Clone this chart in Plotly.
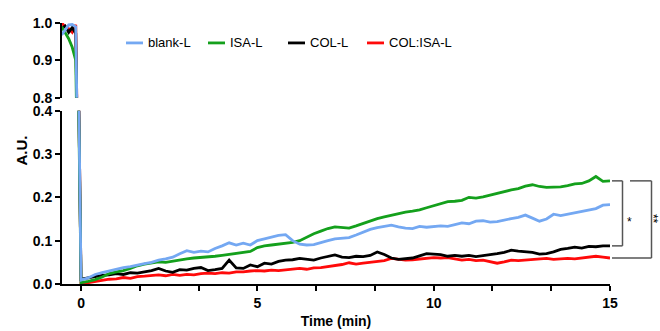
import plotly.graph_objects as go

# ---------------- data ----------------
time_pre = [-0.55, -0.45, -0.35, -0.25, -0.15]
time_main = [round(0.2 * i, 1) for i in range(76)]

blank_pre = [0.968, 0.982, 0.995, 0.996, 0.990]
isa_pre = [0.990, 0.975, 0.958, 0.935, 0.900]
col_pre = [0.985, 0.992, 0.975, 0.988, 0.972]
colisa_pre = [1.000, 0.990, 0.985, 0.975, 0.995]

blank_main = [0.009, 0.014, 0.022, 0.026, 0.030, 0.034, 0.038, 0.040, 0.044, 0.047,
              0.050, 0.055, 0.058, 0.062, 0.070, 0.077, 0.073, 0.076, 0.074, 0.082,
              0.088, 0.095, 0.090, 0.094, 0.090, 0.100, 0.104, 0.108, 0.112, 0.114,
              0.100, 0.092, 0.090, 0.091, 0.096, 0.100, 0.104, 0.106, 0.107, 0.113,
              0.120, 0.126, 0.130, 0.133, 0.136, 0.132, 0.129, 0.128, 0.133, 0.131,
              0.132, 0.134, 0.133, 0.137, 0.141, 0.139, 0.145, 0.146, 0.143, 0.144,
              0.148, 0.151, 0.154, 0.159, 0.152, 0.145, 0.150, 0.161, 0.158, 0.161,
              0.164, 0.168, 0.171, 0.174, 0.182, 0.183]

isa_main = [0.003, 0.006, 0.010, 0.016, 0.024, 0.028, 0.031, 0.036, 0.042, 0.046,
            0.049, 0.051, 0.050, 0.053, 0.055, 0.058, 0.060, 0.061, 0.063, 0.064,
            0.066, 0.068, 0.070, 0.072, 0.075, 0.084, 0.088, 0.090, 0.092, 0.094,
            0.096, 0.100, 0.108, 0.116, 0.122, 0.128, 0.132, 0.130, 0.129, 0.134,
            0.140, 0.146, 0.151, 0.155, 0.159, 0.163, 0.166, 0.168, 0.171, 0.176,
            0.181, 0.186, 0.190, 0.191, 0.193, 0.200, 0.198, 0.201, 0.205, 0.210,
            0.213, 0.217, 0.220, 0.226, 0.229, 0.225, 0.223, 0.224, 0.224, 0.227,
            0.231, 0.232, 0.238, 0.248, 0.237, 0.238]

col_main = [0.011, 0.014, 0.017, 0.020, 0.021, 0.024, 0.022, 0.026, 0.025, 0.028,
            0.031, 0.036, 0.030, 0.027, 0.033, 0.032, 0.036, 0.038, 0.031, 0.033,
            0.036, 0.055, 0.037, 0.036, 0.044, 0.040, 0.048, 0.046, 0.052, 0.055,
            0.056, 0.059, 0.057, 0.055, 0.060, 0.064, 0.067, 0.062, 0.061, 0.064,
            0.063, 0.066, 0.074, 0.068, 0.060, 0.057, 0.058, 0.060, 0.065, 0.070,
            0.069, 0.068, 0.064, 0.066, 0.064, 0.066, 0.063, 0.065, 0.068, 0.070,
            0.073, 0.078, 0.076, 0.074, 0.073, 0.069, 0.070, 0.074, 0.080, 0.082,
            0.085, 0.083, 0.087, 0.086, 0.088, 0.088]

colisa_main = [0.002, 0.003, 0.006, 0.009, 0.011, 0.012, 0.015, 0.013, 0.017, 0.018,
               0.020, 0.021, 0.019, 0.022, 0.020, 0.022, 0.021, 0.024, 0.025, 0.024,
               0.026, 0.025, 0.028, 0.028, 0.030, 0.031, 0.030, 0.032, 0.031, 0.033,
               0.035, 0.036, 0.034, 0.037, 0.038, 0.040, 0.043, 0.045, 0.049, 0.046,
               0.048, 0.050, 0.051, 0.054, 0.059, 0.057, 0.055, 0.056, 0.058, 0.060,
               0.061, 0.060, 0.061, 0.058, 0.055, 0.057, 0.054, 0.055, 0.051, 0.048,
               0.051, 0.055, 0.054, 0.055, 0.056, 0.058, 0.059, 0.057, 0.058, 0.059,
               0.058, 0.060, 0.061, 0.064, 0.062, 0.060]

series_names = ["blank-L", "ISA-L", "COL-L", "COL:ISA-L"]
series_colors = ["#74a8f2", "#14a01c", "#000000", "#ff0a0a"]
series_pre = [blank_pre, isa_pre, col_pre, colisa_pre]
series_main = [blank_main, isa_main, col_main, colisa_main]

x_ticks_major = [0, 5, 10, 15]
y_low_ticks = [0.0, 0.1, 0.2, 0.3, 0.4]
y_high_ticks = [0.8, 0.9, 1.0]

# ---------------- layout geometry ----------------
# the captured page is squeezed vertically (~339 -> 331), so vertical pixel
# targets are expressed in page pixels: target / VS
VS = 331 / 339
W, H = 660, 339
ML, MR = 62, 50
Y_TOP_PX = 22 / VS        # 1.0 of the upper panel
Y_08_PX = 97 / VS         # 0.8 of the upper panel
Y_04_PX = 110 / VS        # 0.4 of the lower panel
Y_AXIS_PX = 284 / VS      # 0.0 / x axis
MT = Y_TOP_PX
MB = H - Y_AXIS_PX
X_RANGE = [-0.54, 15]
Y_LOW = [0, 0.4]
Y_HIGH = [0.8, 1.0]
PLOT_H = H - MT - MB
PLOT_W = W - ML - MR
LOW_DOM = [0, (Y_AXIS_PX - Y_04_PX) / PLOT_H]
HIGH_DOM = [(Y_AXIS_PX - Y_08_PX) / PLOT_H, 1]
FONT = "Arial, 'Liberation Sans', sans-serif"


def ypaper_low(v):
    return LOW_DOM[0] + (v - Y_LOW[0]) / (Y_LOW[1] - Y_LOW[0]) * (LOW_DOM[1] - LOW_DOM[0])


def xpaper_px(px):
    return (px - ML) / PLOT_W


def ypaper_px(py_ref):
    return 1 - (py_ref / VS - MT) / PLOT_H


fig = go.Figure()
# draw order: red, black, green, blue (blue on top)
for i in [3, 2, 1, 0]:
    xs = time_pre + time_main
    ys = series_pre[i] + series_main[i]
    for ax in ["y", "y2"]:
        fig.add_trace(go.Scatter(x=xs, y=ys, mode="lines", name=series_names[i],
                                 line=dict(color=series_colors[i], width=2.8),
                                 showlegend=False, xaxis="x", yaxis=ax))

axis_common = dict(showgrid=False, zeroline=False, showline=True, linecolor="black",
                   linewidth=2, ticks="outside", ticklen=5, tickwidth=2, tickcolor="black",
                   tickfont=dict(family=FONT, size=14, color="black", weight="bold"))

fig.update_layout(
    width=W, height=H,
    margin=dict(l=ML, r=MR, t=MT, b=MB),
    plot_bgcolor="white", paper_bgcolor="white",
    xaxis=dict(range=X_RANGE, tickvals=x_ticks_major, anchor="y",
               minor=dict(dtick=5 / 3, tick0=0, ticks="outside", ticklen=5, tickwidth=2,
                          tickcolor="black", showgrid=False),
               title=dict(text="Time (min)", standoff=6,
                          font=dict(family=FONT, size=14, color="black", weight="bold")),
               **axis_common),
    yaxis=dict(range=Y_LOW, domain=LOW_DOM, tickvals=y_low_ticks, tickformat=".1f",
               anchor="x", **axis_common),
    yaxis2=dict(range=Y_HIGH, domain=HIGH_DOM, tickvals=y_high_ticks, tickformat=".1f",
                anchor="x", **axis_common),
    showlegend=False,
)

# legend (drawn as key lines + labels)
legend_x_px = [126, 208, 288, 367]
legend_y_px = 42
for i, name in enumerate(series_names):
    fig.add_shape(type="line", xref="paper", yref="paper",
                  x0=xpaper_px(legend_x_px[i]), x1=xpaper_px(legend_x_px[i] + 17),
                  y0=ypaper_px(legend_y_px), y1=ypaper_px(legend_y_px),
                  line=dict(color=series_colors[i], width=2.8))
    fig.add_annotation(text=name, xref="paper", yref="paper",
                       x=xpaper_px(legend_x_px[i] + 20), y=ypaper_px(legend_y_px),
                       xanchor="left", yanchor="middle", showarrow=False,
                       font=dict(family=FONT, size=13, color="black"))

# y axis title
fig.add_annotation(text="A.U.", textangle=-90, xref="paper", yref="paper",
                   x=xpaper_px(22), y=ypaper_px(150), xanchor="center", yanchor="middle",
                   showarrow=False,
                   font=dict(family=FONT, size=15, color="black", weight="bold"))

# significance brackets
top_v = isa_main[-1]
b1_v = col_main[-1]
b2_v = colisa_main[-1]
bc = "#555555"
x0 = xpaper_px(612)
x1 = xpaper_px(622.5)
x2 = xpaper_px(630)
x3 = xpaper_px(651.5)
for (xa, ya, xb, yb) in [
    (x0, top_v, x1, top_v), (x1, top_v, x1, b1_v), (x0, b1_v, x1, b1_v),
    (x2, top_v, x3, top_v), (x3, top_v, x3, b2_v), (x0, b2_v, x3, b2_v),
]:
    fig.add_shape(type="line", xref="paper", yref="paper",
                  x0=xa, y0=ypaper_low(ya), x1=xb, y1=ypaper_low(yb),
                  line=dict(color=bc, width=1.5))

fig.add_annotation(text="*", xref="paper", yref="paper", x=xpaper_px(629.5),
                   y=ypaper_low((b1_v + top_v) / 2), yshift=-9, xanchor="center",
                   yanchor="middle", showarrow=False,
                   font=dict(family=FONT, size=12, color="black"))
fig.add_annotation(text="**", textangle=90, xref="paper", yref="paper", x=xpaper_px(652.5),
                   y=ypaper_low((b2_v + top_v) / 2), xanchor="center", yanchor="middle",
                   showarrow=False, borderpad=0,
                   font=dict(family=FONT, size=12, color="black"))

fig.write_html("out.html", config={"displayModeBar": False},
               post_script="document.body.style.margin='0';document.body.style.padding='0';")
